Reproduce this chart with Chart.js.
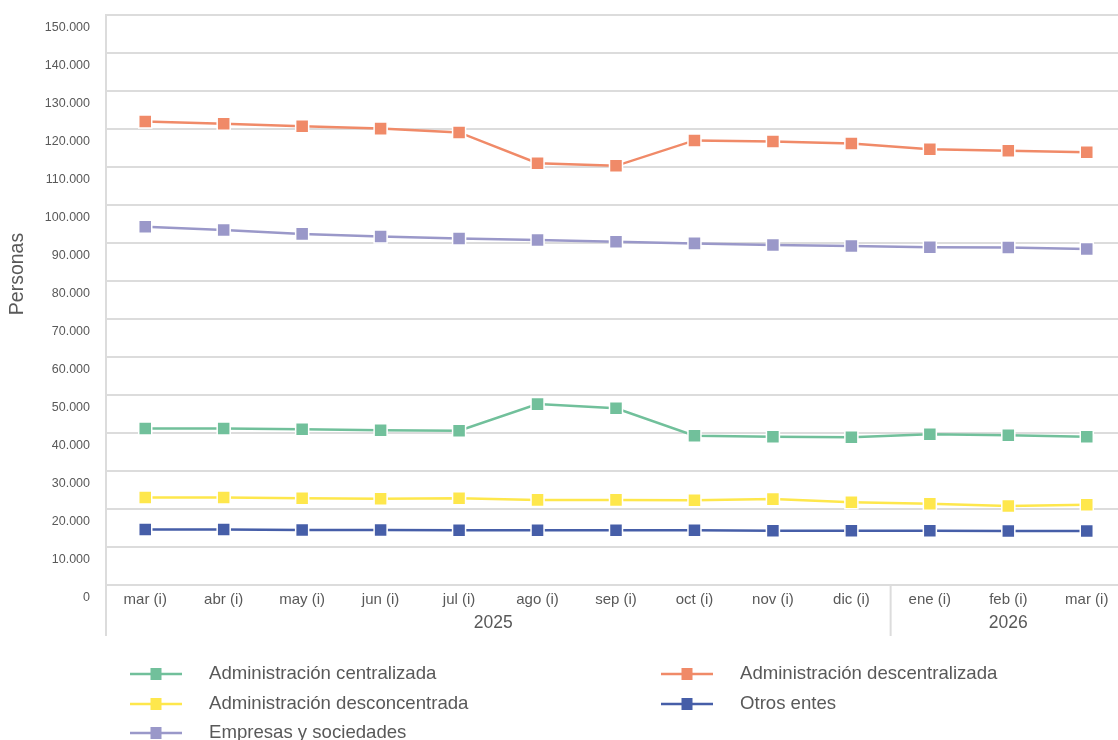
<!DOCTYPE html>
<html lang="es">
<head>
<meta charset="utf-8">
<title>Personas</title>
<script src="https://cdn.jsdelivr.net/npm/chart.js@4.4.1/dist/chart.umd.min.js"></script>
<style>
  html, body { margin: 0; padding: 0; background: #fff; overflow: hidden; }
  #wrap { width: 1126px; height: 740px; }
  canvas { display: block; }
</style>
</head>
<body>
<div id="wrap"><canvas id="grafico" width="1126" height="740"></canvas></div>
<script>
const meses = ["mar (i)", "abr (i)", "may (i)", "jun (i)", "jul (i)", "ago (i)", "sep (i)",
  "oct (i)", "nov (i)", "dic (i)", "ene (i)", "feb (i)", "mar (i)"];
const anios = ["2025", "2026"];
const mesesPorAnio = [10, 3];

const centralizada = [41200, 41200, 41000, 40700, 40600, 47600, 46500, 39300, 39000, 38900, 39700, 39400, 39000];
const descentralizada = [122000, 121400, 120700, 120100, 119100, 111000, 110300, 117000, 116700, 116200, 114700, 114300, 113900];
const desconcentrada = [23000, 23000, 22800, 22700, 22800, 22400, 22400, 22300, 22600, 21800, 21400, 20800, 21100];
const otrosEntes = [14600, 14600, 14500, 14500, 14400, 14400, 14400, 14400, 14300, 14300, 14300, 14200, 14200];
const empresas = [94300, 93400, 92400, 91700, 91200, 90800, 90300, 89900, 89500, 89200, 88900, 88800, 88400];

const fuente = "'Liberation Sans', Arial, sans-serif";
const gris = "#595959";
const rejilla = "#dcdcdc";

function serie(label, data, color) {
  return {
    label: label,
    data: data,
    borderColor: color,
    backgroundColor: color,
    borderWidth: 2.5,
    pointStyle: "rect",
    pointRadius: 9.2,
    pointHoverRadius: 9.2,
    pointBorderColor: "#fff",
    pointBorderWidth: 1.5,
    tension: 0
  };
}

// eje x de dos niveles, titulo del eje y y leyenda en dos columnas
const extras = {
  id: "extras",
  afterDraw(chart) {
    const ctx = chart.ctx;
    const x = chart.scales.x;
    const area = chart.chartArea;
    const fondo = 636;
    ctx.save();

    ctx.strokeStyle = rejilla;
    ctx.lineWidth = 2;
    ctx.beginPath();
    ctx.moveTo(area.left, area.bottom);
    ctx.lineTo(area.left, fondo);
    ctx.stroke();

    ctx.fillStyle = gris;
    ctx.font = "17.5px " + fuente;
    ctx.textAlign = "center";
    ctx.textBaseline = "middle";
    let inicio = 0;
    mesesPorAnio.forEach((n, i) => {
      const fin = inicio + n - 1;
      const izq = inicio === 0 ? area.left : (x.getPixelForValue(inicio - 1) + x.getPixelForValue(inicio)) / 2;
      const der = fin === meses.length - 1 ? area.right : (x.getPixelForValue(fin) + x.getPixelForValue(fin + 1)) / 2;
      if (fin < meses.length - 1) {
        ctx.beginPath();
        ctx.moveTo(der, area.bottom);
        ctx.lineTo(der, fondo);
        ctx.stroke();
      }
      ctx.fillText(anios[i], (izq + der) / 2 - (i === 0 ? 5 : 0), 623);
      inicio += n;
    });

    ctx.save();
    ctx.translate(18, 274);
    ctx.rotate(-Math.PI / 2);
    ctx.font = "19.5px " + fuente;
    ctx.fillText("Personas", 0, 0);
    ctx.restore();

    const columnas = [130, 661];
    const filas = [674, 704, 733];
    ctx.font = "18.6px " + fuente;
    ctx.textAlign = "left";
    chart.data.datasets.forEach((ds, i) => {
      const cx = columnas[i % 2];
      const cy = filas[Math.floor(i / 2)];
      ctx.strokeStyle = ds.borderColor;
      ctx.lineWidth = 2.5;
      ctx.beginPath();
      ctx.moveTo(cx, cy);
      ctx.lineTo(cx + 52, cy);
      ctx.stroke();
      ctx.fillStyle = ds.borderColor;
      ctx.fillRect(cx + 26 - 5.5, cy - 6, 11, 12);
      ctx.fillStyle = gris;
      ctx.fillText(ds.label, cx + 79, cy);
    });
    ctx.restore();
  }
};

new Chart(document.getElementById("grafico"), {
  type: "line",
  data: {
    labels: meses,
    datasets: [
      serie("Administración centralizada", centralizada, "#71c09b"),
      serie("Administración descentralizada", descentralizada, "#f08a68"),
      serie("Administración desconcentrada", desconcentrada, "#fee74c"),
      serie("Otros entes", otrosEntes, "#465ea8"),
      serie("Empresas y sociedades", empresas, "#9a98c9")
    ]
  },
  options: {
    responsive: false,
    animation: false,
    events: [],
    layout: { autoPadding: false, padding: { top: 15, left: 0, right: 0, bottom: 0 } },
    plugins: {
      legend: { display: false },
      tooltip: { enabled: false }
    },
    scales: {
      x: {
        offset: true,
        grid: { display: false, drawTicks: false },
        border: { display: false },
        ticks: {
          color: gris,
          font: { family: fuente, size: 15 },
          padding: 6,
          maxRotation: 0,
          autoSkip: false
        },
        afterFit(scale) { scale.height = 155; }
      },
      y: {
        min: 0,
        max: 150000,
        grid: { color: rejilla, lineWidth: 2, tickLength: 16, tickColor: "transparent" },
        border: { color: rejilla, width: 2 },
        ticks: {
          stepSize: 10000,
          color: gris,
          font: { family: fuente, size: 12.5 },
          padding: 0,
          labelOffset: 13,
          callback: (v) => String(v).replace(/\B(?=(\d{3})+(?!\d))/g, ".")
        },
        afterFit(scale) { scale.width = 106; }
      }
    }
  },
  plugins: [extras]
});
</script>
</body>
</html>
